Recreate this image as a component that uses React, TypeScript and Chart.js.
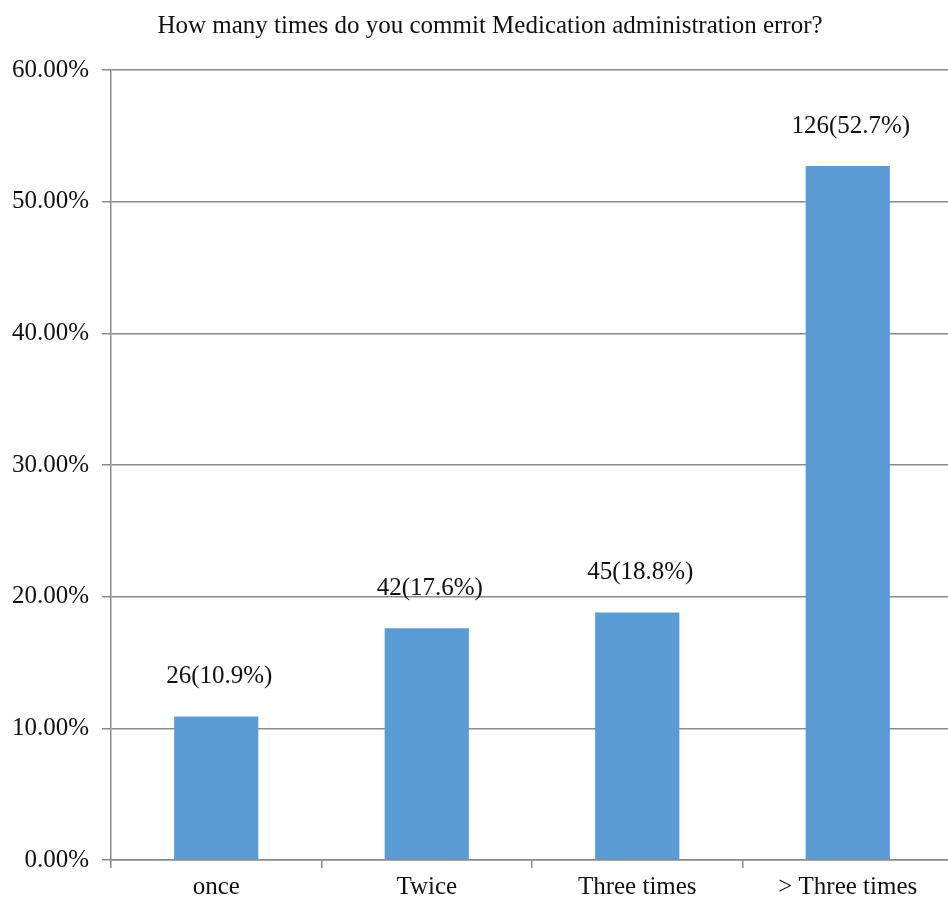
import React, { useEffect, useRef } from "react";
import { Chart, registerables } from "chart.js";

Chart.register(...registerables);

const TITLE = "How many times do you commit Medication administration error?";
const categories = ["once", "Twice", "Three times", "> Three times"];
const counts = [26, 42, 45, 126];
const percents = [10.9, 17.6, 18.8, 52.7];
const yTicks = [0, 10, 20, 30, 40, 50, 60];

const FONT = '"Liberation Serif", "Times New Roman", serif';

const dataLabelPlugin = {
  id: "barLabels",
  afterDatasetsDraw(chart: any) {
    const ctx = chart.ctx;
    const meta = chart.getDatasetMeta(0);
    ctx.save();
    ctx.font = `25px ${FONT}`;
    ctx.fillStyle = "#111";
    ctx.textAlign = "center";
    ctx.textBaseline = "middle";
    meta.data.forEach((bar: any, i: number) => {
      ctx.fillText(`${counts[i]}(${percents[i]}%)`, bar.x + 3, bar.y - 40);
    });
    ctx.restore();
  },
};

const titlePlugin = {
  id: "offsetTitle",
  afterDraw(chart: any) {
    const ctx = chart.ctx;
    ctx.save();
    ctx.font = `25px ${FONT}`;
    ctx.fillStyle = "#111";
    ctx.textAlign = "center";
    ctx.textBaseline = "middle";
    ctx.fillText(TITLE, 490, 26);
    ctx.restore();
  },
};

export default function App() {
  const ref = useRef<HTMLCanvasElement>(null);
  useEffect(() => {
    if (!ref.current) return;
    const chart = new Chart(ref.current, {
      type: "bar",
      data: {
        labels: categories,
        datasets: [
          {
            data: percents,
            backgroundColor: "#5B9BD5",
            barPercentage: 0.4,
            categoryPercentage: 1,
          },
        ],
      },
      options: {
        animation: false,
        responsive: false,
        devicePixelRatio: 1,
        layout: { padding: { left: 0, right: 27, top: 70, bottom: 0 } },
        plugins: {
          legend: { display: false },
          tooltip: { enabled: false },
          title: { display: false },
        },
        scales: {
          x: {
            grid: {
              drawOnChartArea: false,
              drawTicks: true,
              tickLength: 8,
              color: "#8a8a8a",
              lineWidth: 1.5,
              offset: true,
            },
            border: { display: true, color: "#8a8a8a", width: 1.5 },
            ticks: {
              color: "#111",
              font: { family: FONT, size: 25 },
              padding: 4,
              maxRotation: 0,
            },
            afterFit(scale: any) {
              scale.height = 39;
            },
          },
          y: {
            min: 0,
            max: 60,
            afterBuildTicks(scale: any) {
              scale.ticks = yTicks.map((v) => ({ value: v }));
            },
            grid: {
              color: "#8a8a8a",
              lineWidth: 1.5,
              drawTicks: true,
              tickLength: 9,
            },
            border: { display: true, color: "#8a8a8a", width: 1.5 },
            ticks: {
              color: "#111",
              font: { family: FONT, size: 25 },
              padding: 13,
              callback: (v: any) => Number(v).toFixed(2) + "%",
            },
            afterFit(scale: any) {
              scale.width = 111;
            },
          },
        },
      },
      plugins: [dataLabelPlugin, titlePlugin],
    });
    return () => chart.destroy();
  }, []);
  return (
    <div
      style={{
        position: "fixed",
        left: 0,
        top: 0,
        width: 948,
        height: 899,
        overflow: "hidden",
        background: "#fff",
      }}
    >
      <canvas ref={ref} width={980} height={899} style={{ width: 980, height: 899, display: "block" }} />
    </div>
  );
}
